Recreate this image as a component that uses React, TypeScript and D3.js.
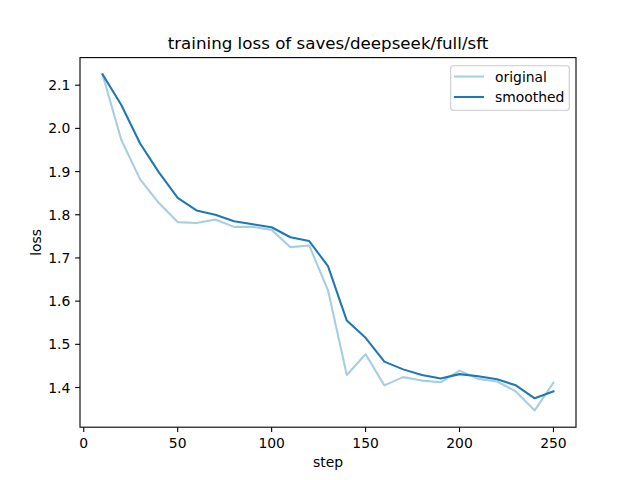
import React from "react";
import * as d3 from "d3";

const steps = [10, 20, 30, 40, 50, 60, 70, 80, 90, 100, 110, 120, 130, 140, 150, 160, 170, 180, 190, 200, 210, 220, 230, 240, 250];
const original = [2.125, 1.973, 1.882, 1.827, 1.783, 1.781, 1.789, 1.772, 1.772, 1.765, 1.725, 1.729, 1.625, 1.429, 1.477, 1.405, 1.424, 1.416, 1.412, 1.439, 1.420, 1.414, 1.391, 1.347, 1.411];
const smoothed = [2.125, 2.054, 1.965, 1.898, 1.839, 1.810, 1.800, 1.785, 1.778, 1.771, 1.748, 1.739, 1.681, 1.555, 1.515, 1.460, 1.442, 1.429, 1.421, 1.431, 1.426, 1.419, 1.405, 1.375, 1.391];
const xTicks = [0, 50, 100, 150, 200, 250];
const yTicks = [1.4, 1.5, 1.6, 1.7, 1.8, 1.9, 2.0, 2.1];

const W = 640, H = 480;
const L = 80, R = 576, T = 57.6, B = 427.2;
const font = "DejaVu Sans, sans-serif";
const tickLen = 4.86;
const lw = 2.08;

export default function App() {
  const x = d3.scaleLinear().domain([-2, 262]).range([L, R]);
  const all = original.concat(smoothed);
  const lo = d3.min(all)!, hi = d3.max(all)!;
  const pad = (hi - lo) * 0.05;
  const y = d3.scaleLinear().domain([lo - pad, hi + pad]).range([B, T]);

  const line = (vals: number[]) =>
    d3.line<number>().x((_, i) => x(steps[i])).y((d) => y(d))(vals) || "";

  return (
    <svg width={W} height={H} style={{ position: "absolute", left: 0, top: 0 }} fontFamily={font}>
      <rect width={W} height={H} fill="white" />
      <text x={(L + R) / 2} y={49.3} textAnchor="middle" fontSize={16.7}>
        training loss of saves/deepseek/full/sft
      </text>
      <path d={line(original)} fill="none" stroke="#a6cee3" strokeWidth={lw} strokeLinejoin="round" strokeLinecap="square" />
      <path d={line(smoothed)} fill="none" stroke="#1f78b4" strokeWidth={lw} strokeLinejoin="round" strokeLinecap="square" />
      <rect x={L} y={T} width={R - L} height={B - T} fill="none" stroke="black" strokeWidth={1.1} />
      {xTicks.map((t) => (
        <g key={t}>
          <line x1={x(t)} x2={x(t)} y1={B} y2={B + tickLen} stroke="black" strokeWidth={1.1} />
          <text x={x(t)} y={447.7} textAnchor="middle" fontSize={13.9}>{t}</text>
        </g>
      ))}
      {yTicks.map((t) => (
        <g key={t}>
          <line x1={L - tickLen} x2={L} y1={y(t)} y2={y(t)} stroke="black" strokeWidth={1.1} />
          <text x={L - 9.7} y={y(t) + 5} textAnchor="end" fontSize={13.9}>{t.toFixed(1)}</text>
        </g>
      ))}
      <text x={(L + R) / 2} y={466.5} textAnchor="middle" fontSize={13.9}>step</text>
      <text transform={`translate(40.5,${(T + B) / 2}) rotate(-90)`} textAnchor="middle" fontSize={13.9}>loss</text>
      <g>
        <rect x={450.7} y={65.7} width={118.6} height={44.6} rx={2.8} fill="white" fillOpacity={0.8} stroke="#cccccc" strokeWidth={1.1} />
        <line x1={454} x2={484} y1={76.5} y2={76.5} stroke="#a6cee3" strokeWidth={lw} />
        <text x={495} y={81.5} fontSize={13.9}>original</text>
        <line x1={454} x2={484} y1={97} y2={97} stroke="#1f78b4" strokeWidth={lw} />
        <text x={495} y={102} fontSize={13.9}>smoothed</text>
      </g>
    </svg>
  );
}
